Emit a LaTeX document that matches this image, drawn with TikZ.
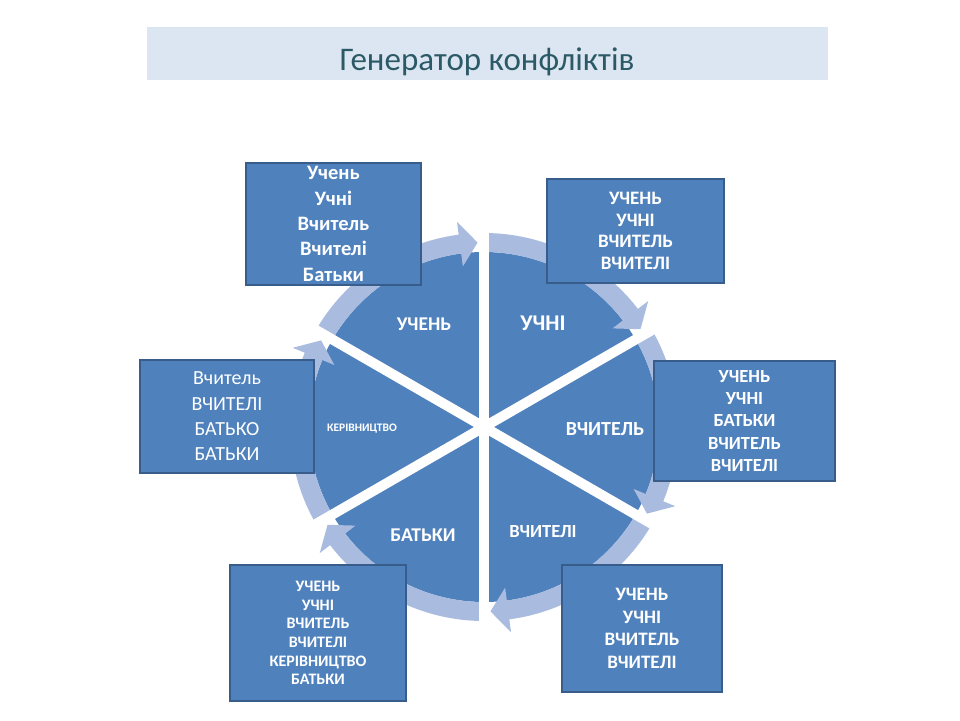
\documentclass[tikz,border=0pt]{standalone}
\usepackage{fontspec}
\setmainfont{Carlito}
\definecolor{pieblue}{HTML}{4F81BD}
\definecolor{ringblue}{HTML}{A9BCDF}
\definecolor{boxedge}{HTML}{385D8A}
\definecolor{titlebg}{HTML}{DCE6F2}
\definecolor{titletext}{HTML}{2B5A66}
\begin{document}
\begin{tikzpicture}[x=1pt,y=1pt,
  infobox/.style={draw=boxedge, line width=2, fill=pieblue, text=white, align=center, inner sep=0},
  seclabel/.style={text=white, inner sep=0, font=\bfseries}]
\useasboundingbox (0,0) rectangle (960,-720);
\fill[white] (0,0) rectangle (960,-720);
% title
\node[fill=titlebg, minimum width=681, minimum height=53, inner sep=0, anchor=north west] (titlebar) at (147,-27) {};
\node[text=titletext, anchor=base, inner sep=0, font=\fontsize{33}{38}\selectfont] (title) at (487,-70) {Генератор конфліктів};
% pie and ring
\begin{scope}[shift={(484,-427)}]
  \fill[pieblue] (0,0) circle[radius=175];
  \foreach \s in {150,90,30,-30,-90,-150}{
    \pgfmathsetmacro\t{\s-58}
    \pgfmathsetmacro\h{\t+5.5}
    \fill[ringblue] (\s:194) arc[start angle=\s, end angle=\h, radius=194]
      -- (\h:207) -- (\t:184.5) -- (\h:162) -- (\h:175)
      arc[start angle=\h, end angle=\s, radius=175] -- cycle;
  }
  \foreach \a in {90,30,-30}{
    \draw[white, line width=10] (\a:212) -- (\a+180:212);
  }
\end{scope}
% sector labels
\node[seclabel, font=\bfseries\fontsize{19.5}{23}\selectfont] (s1) at (424,-324) {УЧЕНЬ};
\node[seclabel, font=\bfseries\fontsize{22.5}{25}\selectfont] (s2) at (543,-323) {УЧНІ};
\node[seclabel, font=\bfseries\fontsize{20}{23}\selectfont] (s3) at (605,-429) {ВЧИТЕЛЬ};
\node[seclabel, font=\bfseries\fontsize{18.5}{21}\selectfont] (s4) at (543,-532) {ВЧИТЕЛІ};
\node[seclabel, font=\bfseries\fontsize{19.5}{23}\selectfont] (s5) at (423,-535) {БАТЬКИ};
\node[seclabel, font=\bfseries\fontsize{11.5}{13}\selectfont] (s6) at (362,-429) {КЕРІВНИЦТВО};
% boxes
\node[infobox, minimum width=175, minimum height=122, font=\bfseries\fontsize{20.5}{25.3}\selectfont] (b1) at (333.5,-224) {Учень\\Учні\\Вчитель\\Вчителі\\Батьки};
\node[infobox, minimum width=177, minimum height=104, font=\bfseries\fontsize{19}{21.7}\selectfont] (b2) at (635.5,-231) {УЧЕНЬ\\УЧНІ\\ВЧИТЕЛЬ\\ВЧИТЕЛІ};
\node[infobox, minimum width=174, minimum height=113, font=\fontsize{20}{25.3}\selectfont] (b3) at (227,-416.5) {Вчитель\\ВЧИТЕЛІ\\БАТЬКО\\БАТЬКИ};
\node[infobox, minimum width=181, minimum height=120, font=\bfseries\fontsize{18.5}{22.2}\selectfont] (b4) at (744.5,-421) {УЧЕНЬ\\УЧНІ\\БАТЬКИ\\ВЧИТЕЛЬ\\ВЧИТЕЛІ};
\node[infobox, minimum width=176, minimum height=136, font=\bfseries\fontsize{16}{18.7}\selectfont] (b5) at (318,-633) {УЧЕНЬ\\УЧНІ\\ВЧИТЕЛЬ\\ВЧИТЕЛІ\\КЕРІВНИЦТВО\\БАТЬКИ};
\node[infobox, minimum width=160, minimum height=127, font=\bfseries\fontsize{19}{22.5}\selectfont] (b6) at (642,-628.5) {УЧЕНЬ\\УЧНІ\\ВЧИТЕЛЬ\\ВЧИТЕЛІ};
\end{tikzpicture}
\end{document}
